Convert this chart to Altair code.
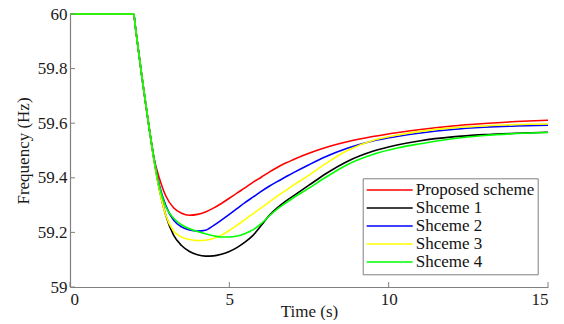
import altair as alt
import pandas as pd

# ---- data ----
time_s = [0, 1.0, 2.0, 2.05, 2.25, 2.5, 2.65, 2.8, 3.0, 3.25, 3.5, 3.75, 4.0, 4.25, 4.5, 4.75,
          5.0, 5.25, 5.5, 5.75, 6.0, 6.25, 6.5, 6.75, 7.0, 7.5, 8.0, 8.7, 9.5, 10.3, 11.0,
          12.0, 13.0, 14.0, 15.0]

proposed = [60, 60, 60, 59.955, 59.775, 59.57, 59.465, 59.40, 59.335, 59.29, 59.27, 59.263,
            59.266, 59.275, 59.289, 59.306, 59.325, 59.345, 59.364, 59.384, 59.402, 59.421,
            59.438, 59.453, 59.466, 59.49, 59.51, 59.532, 59.551, 59.566, 59.577, 59.59,
            59.599, 59.606, 59.611]
scheme1 = [60, 60, 60, 59.955, 59.775, 59.57, 59.455, 59.36, 59.265, 59.19, 59.152, 59.13,
           59.118, 59.113, 59.114, 59.12, 59.13, 59.145, 59.165, 59.19, 59.225, 59.262, 59.29,
           59.313, 59.333, 59.373, 59.413, 59.46, 59.497, 59.521, 59.536, 59.55, 59.558,
           59.563, 59.567]
scheme2 = [60, 60, 60, 59.955, 59.775, 59.57, 59.46, 59.375, 59.30, 59.245, 59.22, 59.209,
           59.205, 59.208, 59.225, 59.245, 59.266, 59.288, 59.31, 59.33, 59.35, 59.369,
           59.386, 59.402, 59.418, 59.448, 59.476, 59.508, 59.535, 59.552, 59.564, 59.577,
           59.585, 59.59, 59.593]
scheme3 = [60, 60, 60, 59.955, 59.775, 59.57, 59.455, 59.36, 59.265, 59.205, 59.183, 59.174,
           59.17, 59.171, 59.178, 59.19, 59.207, 59.227, 59.248, 59.269, 59.29, 59.311,
           59.332, 59.352, 59.372, 59.41, 59.45, 59.50, 59.537, 59.557, 59.57, 59.583,
           59.59, 59.595, 59.597]
scheme4 = [60, 60, 60, 59.955, 59.775, 59.57, 59.46, 59.37, 59.295, 59.252, 59.228, 59.213,
           59.203, 59.195, 59.188, 59.183, 59.183, 59.187, 59.196, 59.21, 59.232, 59.26,
           59.285, 59.306, 59.326, 59.362, 59.40, 59.448, 59.485, 59.51, 59.525, 59.543,
           59.555, 59.562, 59.566]

series_names = ["Proposed scheme", "Shceme 1", "Shceme 2", "Shceme 3", "Shceme 4"]
series_colors = ["#ff0000", "#000000", "#0000ff", "#ffff00", "#00ff00"]
x_ticks = [0, 5, 10, 15]
y_ticks = [59.0, 59.2, 59.4, 59.6, 59.8, 60.0]

rows = []
for name, vals in zip(series_names, [proposed, scheme1, scheme2, scheme3, scheme4]):
    for t, f in zip(time_s, vals):
        rows.append({"Time": t, "Frequency": f, "Series": name})
df = pd.DataFrame(rows)

FONT = "Liberation Serif"
W, H = 478, 273
GRAY = "#808080"
TXT = "#1a1a1a"

x_scale = alt.Scale(domain=[0, 15], nice=False, zero=False)
y_scale = alt.Scale(domain=[59, 60], nice=False, zero=False)

lines = alt.Chart(df).mark_line(strokeWidth=1.6, interpolate="monotone").encode(
    x=alt.X("Time:Q", scale=x_scale,
            axis=alt.Axis(values=x_ticks, title="Time (s)", ticks=False,
                          labelFont=FONT, labelFontSize=17, labelColor=TXT,
                          titleFont=FONT, titleFontSize=17, titleColor=TXT,
                          titleFontWeight="normal",
                          labelPadding=4, titlePadding=-4)),
    y=alt.Y("Frequency:Q", scale=y_scale,
            axis=alt.Axis(values=y_ticks, title="Frequency (Hz)", ticks=False,
                          labelFont=FONT, labelFontSize=17, labelColor=TXT,
                          titleFont=FONT, titleFontSize=17, titleColor=TXT,
                          titleFontWeight="normal",
                          labelPadding=3, titlePadding=5,
                          labelExpr="abs(datum.value - round(datum.value)) < 0.001 ? format(datum.value, '.0f') : format(datum.value, '.1f')")),
    color=alt.Color("Series:N",
                    scale=alt.Scale(domain=series_names, range=series_colors),
                    legend=alt.Legend(title=None, orient="none", legendX=292.7, legendY=164.3,
                                      symbolType="stroke", symbolSize=2116, symbolStrokeWidth=1.5,
                                      labelFont=FONT, labelFontSize=17, labelColor="#111111",
                                      labelOffset=2, padding=3, rowPadding=-2.3, clipHeight=17.3,
                                      strokeColor=GRAY, fillColor="white")),
)

xt = alt.Chart(pd.DataFrame({"Time": x_ticks})).mark_rule(color=GRAY, strokeWidth=1).encode(
    x=alt.X("Time:Q", scale=x_scale),
    y=alt.value(H), y2=alt.value(H - 5),
)
yt = alt.Chart(pd.DataFrame({"Frequency": y_ticks})).mark_rule(color=GRAY, strokeWidth=1).encode(
    y=alt.Y("Frequency:Q", scale=y_scale),
    x=alt.value(0), x2=alt.value(5),
)

chart = alt.layer(lines, xt, yt).properties(
    width=W, height=H,
    autosize=alt.AutoSizeParams(type="none"),
    padding={"left": 62, "top": 6, "right": 8, "bottom": 33},
).configure_view(stroke=None).configure_axis(
    grid=False, domainColor=GRAY, domainWidth=1.2,
    labelFont=FONT, labelFontSize=17, labelColor=TXT,
    titleFont=FONT, titleFontSize=17, titleColor=TXT, titleFontWeight="normal",
)

chart.save("out.html", embed_options={"renderer": "svg", "actions": False})
